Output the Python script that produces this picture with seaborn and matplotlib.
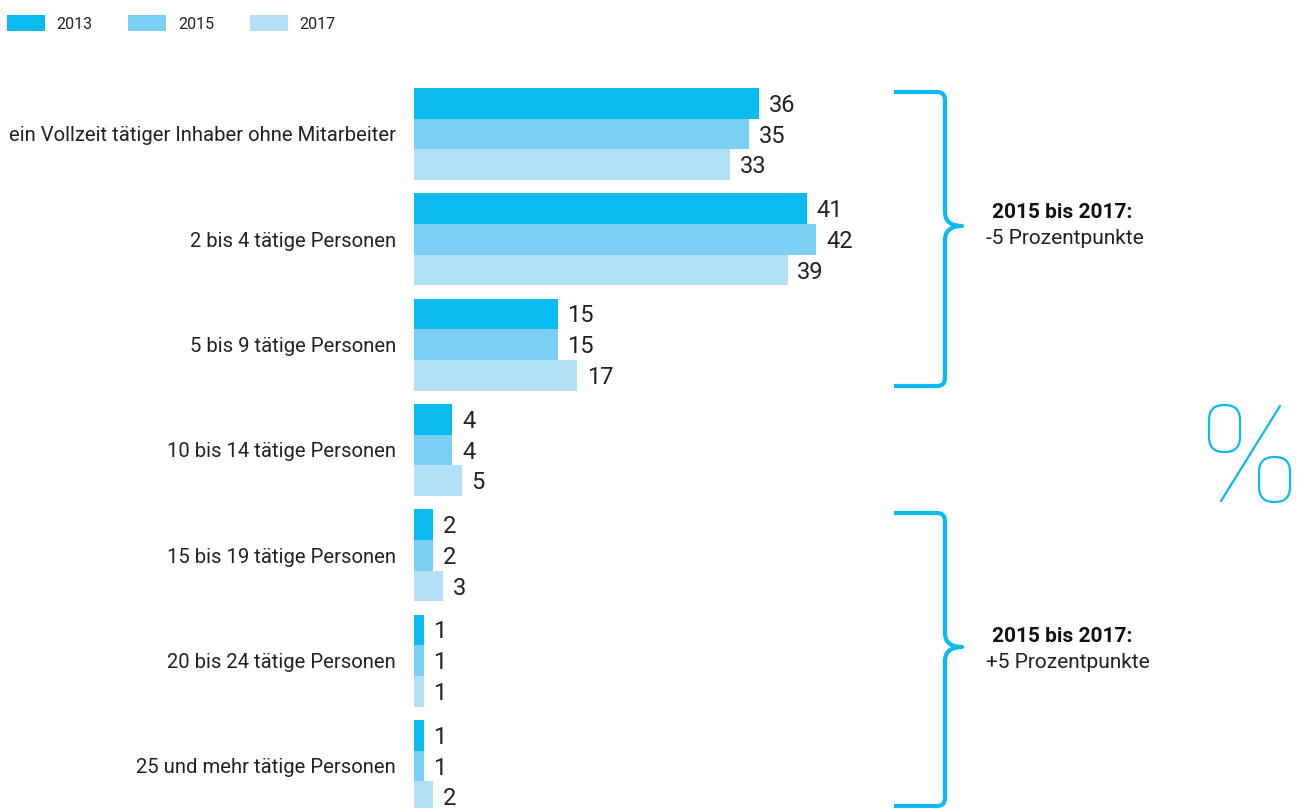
import matplotlib
matplotlib.use("Agg")
import matplotlib.pyplot as plt
from matplotlib.path import Path
from matplotlib.patches import PathPatch, FancyBboxPatch
from matplotlib.lines import Line2D
import seaborn as sns
import pandas as pd

# Betriebsgröße nach tätigen Personen, Anteile in %
categories = [
    "ein Vollzeit tätiger Inhaber ohne Mitarbeiter",
    "2 bis 4 tätige Personen",
    "5 bis 9 tätige Personen",
    "10 bis 14 tätige Personen",
    "15 bis 19 tätige Personen",
    "20 bis 24 tätige Personen",
    "25 und mehr tätige Personen",
]
years = ["2013", "2015", "2017"]
values_2013 = [36, 41, 15, 4, 2, 1, 1]
values_2015 = [35, 42, 15, 4, 2, 1, 1]
values_2017 = [33, 39, 17, 5, 3, 1, 2]
colors = ["#0bbbef", "#7bcef4", "#b2e0f7"]
brace_color = "#0bbbef"

df = pd.DataFrame({
    "Kategorie": categories * 3,
    "Jahr": [y for y in years for _ in categories],
    "Anteil": values_2013 + values_2015 + values_2017,
})

sns.set_style("white")
plt.rcParams["font.family"] = ["Roboto", "DejaVu Sans"]
text_color = "#222222"

W, H = 1299, 808
fig = plt.figure(figsize=(W / 100, H / 100), dpi=100)

# main axes: x=0 at pixel 414, ~9.58 px per unit
px_unit = 9.58
ax_left, ax_right = 414, 880
ax_top = 81.3
ax = fig.add_axes([ax_left / W, 0, (ax_right - ax_left) / W, 1 - ax_top / H])

sns.barplot(data=df, y="Kategorie", x="Anteil", hue="Jahr", orient="h",
            palette=colors, width=0.875, saturation=1, linewidth=0, ax=ax)

ax.set_xlim(0, (ax_right - ax_left) / px_unit)
pitch = 105.33
ax.set_ylim(-0.5 + (H - ax_top) / pitch, -0.5)

for c in ax.containers:
    for t in ax.bar_label(c, padding=7, fontsize=17, color=text_color):
        t.xyann = (7, -1.5)

for s in ax.spines.values():
    s.set_visible(False)
ax.set_xticks([])
ax.set_xlabel("")
ax.set_ylabel("")
ax.tick_params(axis="y", length=0, pad=13, labelsize=14.6, labelcolor=text_color)

handles, labels = ax.get_legend_handles_labels()
ax.legend(handles, labels, ncol=3, loc="upper left",
          bbox_to_anchor=(7 / W, 1 - 15 / H), bbox_transform=fig.transFigure,
          frameon=False, fontsize=11.5, handlelength=2.37, handleheight=1.19,
          handletextpad=0.72, columnspacing=2.25, borderpad=0, borderaxespad=0,
          labelcolor=text_color)

# overlay in pixel coordinates for braces and percent sign
ov = fig.add_axes([0, 0, 1, 1])
ov.set_xlim(0, W)
ov.set_ylim(H, 0)
ov.axis("off")
ov.patch.set_alpha(0)


def brace(top, tip, bottom, x0=894, xv=945, xt=962, r=8, t=14):
    verts = [
        (x0, top), (xv - r, top), (xv, top), (xv, top + r),
        (xv, tip - t), (xv, tip), (xt, tip),
        (xv, tip), (xv, tip + t),
        (xv, bottom - r), (xv, bottom), (xv - r, bottom), (x0, bottom),
    ]
    codes = [Path.MOVETO, Path.LINETO, Path.CURVE3, Path.CURVE3,
             Path.LINETO, Path.CURVE3, Path.CURVE3,
             Path.CURVE3, Path.CURVE3,
             Path.LINETO, Path.CURVE3, Path.CURVE3, Path.LINETO]
    ov.add_patch(PathPatch(Path(verts, codes), fill=False, edgecolor=brace_color,
                           lw=3, capstyle="butt", joinstyle="round"))


brace(92, 226, 386)
brace(513, 647, 806)

note_size = 15
ov.text(992, 213, "2015 bis 2017:", fontsize=note_size, fontweight="bold",
        color="#111111", va="center", ha="left")
ov.text(986, 239, "-5 Prozentpunkte", fontsize=note_size,
        color=text_color, va="center", ha="left")
ov.text(992, 636, "2015 bis 2017:", fontsize=note_size, fontweight="bold",
        color="#111111", va="center", ha="left")
ov.text(986, 662, "+5 Prozentpunkte", fontsize=note_size,
        color=text_color, va="center", ha="left")

# outlined percent sign
ov.add_patch(FancyBboxPatch((1209 + 15, 405 + 15), 1, 47 - 30,
                            boxstyle="round,pad=15", fill=False,
                            edgecolor=brace_color, lw=1.6))
ov.add_patch(FancyBboxPatch((1259 + 15, 457 + 15), 1, 45 - 30,
                            boxstyle="round,pad=15", fill=False,
                            edgecolor=brace_color, lw=1.6))
ov.add_line(Line2D([1221, 1280], [501, 406], color=brace_color, lw=1.6))

fig.savefig("out.png", dpi=100)
